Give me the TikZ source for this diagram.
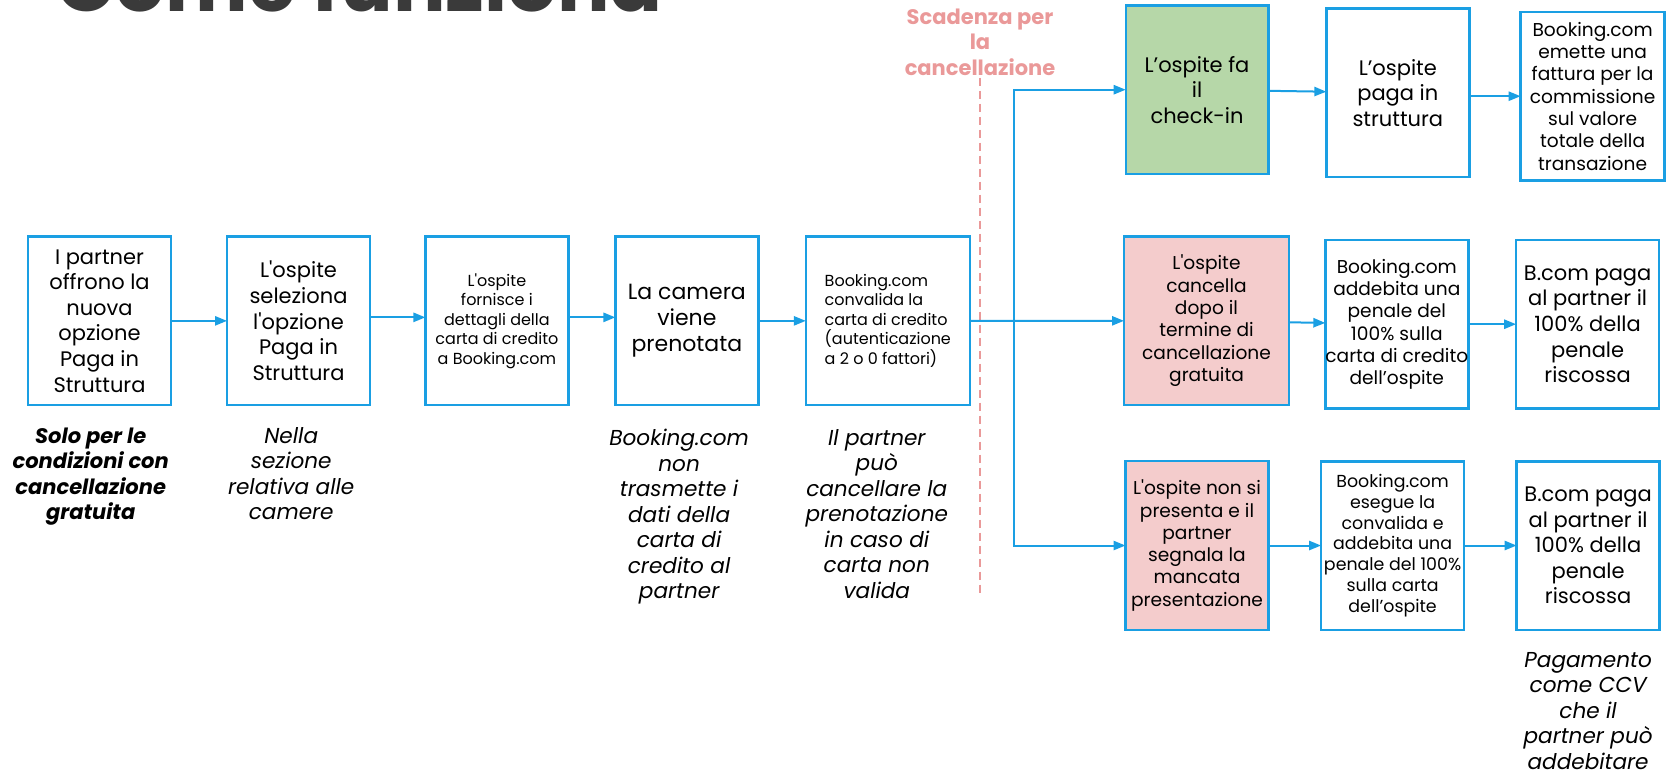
\documentclass[tikz,border=0pt]{standalone}
\usepackage{fontspec}
\setmainfont{Poppins}
\usepackage{tikz}
\usetikzlibrary {arrows.meta,
                 positioning}
\definecolor{bkblue}{HTML}{1A9FE3}
\definecolor{okgreen}{HTML}{B6D7A8}
\definecolor{kopink}{HTML}{F4CCCC}
\definecolor{lnpink}{HTML}{EA9999}
\definecolor{titlegray}{HTML}{3A3A3A}
\newcommand{\fsbig}{\fontsize{10.5pt}{12.8pt}\selectfont}
\newcommand{\fsmid}{\fontsize{11pt}{13pt}\selectfont}
\newcommand{\fsmed}{\fontsize{9.3pt}{11.15pt}\selectfont}
\newcommand{\fsless}{\fontsize{8.7pt}{10.4pt}\selectfont}
\newcommand{\fssmall}{\fontsize{8pt}{9.75pt}\selectfont}
\tikzset{
        base/.style={draw=bkblue, line width=1.2pt, align=center, inner sep=0pt,
                     outer sep=0pt, minimum height=84.2pt},
        proc/.style={base, rectangle, minimum width=71.5pt},
        wide/.style={base, rectangle, minimum width=82pt},
        okbox/.style={proc, fill=okgreen},
        kobox/.style={fill=kopink},
        note/.style={align=center, inner sep=0pt,
                     font=\fontsize{10.8pt}{12.75pt}\selectfont\itshape},
        boldnote/.style={note,
                     font=\fontsize{10.5pt}{12.75pt}\selectfont\bfseries\itshape},
        deadline/.style={draw=lnpink, line width=1pt, dash pattern=on 4pt off 2.5pt},
        myarrow/.style={-{Triangle[length=6pt, width=4.6pt]}, draw=bkblue,
                        line width=1pt},
 }

\begin{document}
\begin{tikzpicture}[x=0.5pt, y=-0.5pt]
    \useasboundingbox (0,0) rectangle (1668,773);
    \node[anchor=base west, inner sep=0pt, text=titlegray,
          font=\fontsize{39pt}{39pt}\selectfont\bfseries] (title) at (56,11) {Come funziona};

    % booking row
    \node[proc, font=\fsbig] (p1) at (99.5,320.85) {I partner\\offrono la\\nuova\\opzione\\Paga in\\Struttura};
    \node[proc, right=28pt of p1, font=\fsbig] (p2) {L\textquotesingle ospite\\seleziona\\l\textquotesingle opzione\\Paga in\\Struttura};
    \node[proc, right=27.7pt of p2, font=\fssmall] (p3) {L\textquotesingle ospite\\fornisce i\\dettagli della\\carta di credito\\a Booking.com};
    \node[proc, right=23.5pt of p3, font=\fsmid] (p4) {La camera\\viene\\prenotata};
    \node[wide, right=23.7pt of p4, font=\fssmall, align=left] (p5) {Booking.com\\convalida la\\carta di credito\\(autenticazione\\a 2 o 0 fattori)};

    \node[boldnote, below=11pt of p1, xshift=-4.4pt] (a1) {Solo per le\\condizioni con\\cancellazione\\gratuita};
    \node[note, below=11pt of p2, xshift=-3.65pt] (a2) {Nella\\sezione\\relativa alle\\camere};
    \node[note, below=12pt of p4, xshift=-3.9pt] (a4) {Booking.com\\non\\trasmette i\\dati della\\carta di\\credito al\\partner};
    \node[note, below=12pt of p5, xshift=-5.5pt] (a5) {Il partner\\può\\cancellare la\\prenotazione\\in caso di\\carta non\\valida};

    % cancellation deadline
    \node[anchor=south, inner sep=0pt, align=center, text=lnpink, font=\fsbig\bfseries] (dl) at (980,76) {Scadenza per\\la\\cancellazione};
    \coordinate (dlend) at (980,595);
    \draw[deadline, shorten <=0.8pt] (dl) -- (dlend);

    % outcomes
    \node[okbox, font=\fsbig, minimum width=71.3pt] (g1) at (1197,89.7) {L’ospite fa\\il\\check-in};
    \node[proc, right=29pt of g1, yshift=-1.55pt, font=\fsbig] (g2) {L’ospite\\paga in\\struttura};
    \node[proc, right=25.65pt of g2, yshift=-1.7pt, font=\fsmed, minimum width=72pt] (g3) {Booking.com\\emette una\\fattura per la\\commissione\\sul valore\\totale della\\transazione};

    \node[wide, kobox, font=\fsmed, minimum width=82.5pt] (c1) at (1206.5,320.8) {L\textquotesingle ospite\\cancella\\dopo il\\termine di\\cancellazione\\gratuita};
    \node[proc, right=18.15pt of c1, yshift=-1.7pt, font=\fsmed] (c2) {Booking.com\\addebita una\\penale del\\100\% sulla\\carta di credito\\dell’ospite};
    \node[proc, right=23.9pt of c2, font=\fsbig] (c3) {B.com paga\\al partner il\\100\% della\\penale\\riscossa};

    \node[proc, kobox, font=\fsmed, minimum height=84.5pt] (n1) at (1197,545.5) {L\textquotesingle ospite non si\\presenta e il\\partner\\segnala la\\mancata\\presentazione};
    \node[proc, right=26.3pt of n1, font=\fsless] (n2) {Booking.com\\esegue la\\convalida e\\addebita una\\penale del 100\%\\sulla carta\\dell’ospite};
    \node[proc, right=26.25pt of n2, font=\fsbig] (n3) {B.com paga\\al partner il\\100\% della\\penale\\riscossa};

    \node[note, below=11pt of n3] (a9) {Pagamento\\come CCV\\che il\\partner può\\addebitare};

    % connectors
    \draw[myarrow] (p1) -- (p2);
    \draw[myarrow] ([yshift=1.75pt]p2.east) -- ([yshift=1.75pt]p3.west);
    \draw[myarrow] ([yshift=1.75pt]p3.east) -- ([yshift=1.75pt]p4.west);
    \draw[myarrow] (p4) -- (p5);
    \coordinate[right=22pt of p5] (fork);
    \draw[myarrow] (p5) -- (c1);
    \draw[myarrow] (fork) |- (g1);
    \draw[myarrow] (fork) |- (n1);
    \draw[myarrow] (g1) -- (g2);
    \draw[myarrow] (g2.east |- g3) -- (g3);
    \draw[myarrow] (c1) -- (c2);
    \draw[myarrow] (c2) -- (c3);
    \draw[myarrow] (n1) -- (n2);
    \draw[myarrow] (n2) -- (n3);
\end{tikzpicture}
\end{document}
